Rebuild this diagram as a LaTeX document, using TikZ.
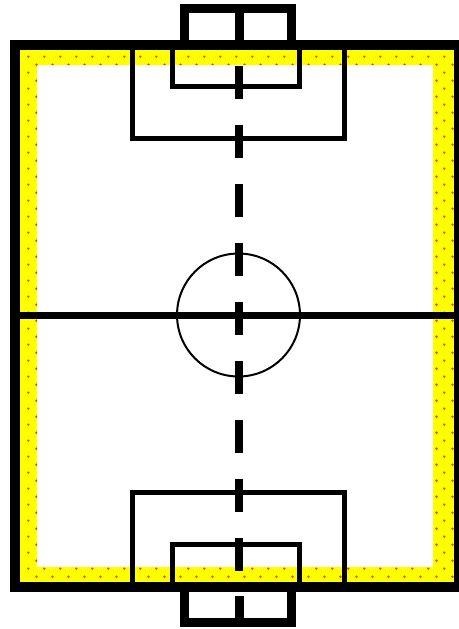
\documentclass[tikz,border=0pt]{standalone}
\usepackage{tikz}
\definecolor{pitchyellow}{RGB}{255, 255, 0}
\definecolor{dotred}{RGB}{255, 60, 0}

\begin{document}
\begin{tikzpicture}[
    x=0.02cm, y=-0.02cm,
    border/.style={line width=0.2cm},
    goalline/.style={line width=0.18cm},
    boxline/.style={line width=0.1cm},
    halfway/.style={line width=0.14cm},
    centreline/.style={line width=0.16cm, dash pattern=on 0.66cm off 0.52cm},
]
  \useasboundingbox (0,0) rectangle (458,629);

  % Yellow band
  \fill[pitchyellow, even odd rule] (20,50) rectangle (454,582) (37,65) rectangle (433,567);
  \begin{scope}[even odd rule]
    \clip (20,50) rectangle (454,582) (37,65) rectangle (433,567);
    \foreach \i in {0,...,27}
      \foreach \j in {-4,...,35} {
        \fill[dotred] (28.3+16*\i, 56.7+16*\j) circle (0.026cm);
        \fill[dotred] (36.5+16*\i, 64.7+16*\j) circle (0.026cm);
      }
  \end{scope}

  % Border
  \draw[border] (15,45) rectangle (459,587);

  % Halfway line and centre circle
  \coordinate (centre) at (238.5,315);
  \draw[halfway] (10,315) -- (458,315);
  \draw[line width=0.04cm] (centre) circle (1.23cm);
  \draw[centreline] (239,66) -- (239,572);

  % Top end
  \draw[boxline] (132.5,45) -- (132.5,138) -- (344.5,138) -- (344.5,45);
  \draw[boxline] (172.5,45) -- (172.5,86) -- (299,86) -- (299,45);
  \draw[goalline] (184,45) -- (184,8.5) -- (291.5,8.5) -- (291.5,45);
  \draw[goalline] (239,4) -- (239,45);

  % Bottom end
  \draw[boxline] (132.5,587) -- (132.5,492.5) -- (344.5,492.5) -- (344.5,587);
  \draw[boxline] (172.5,587) -- (172.5,544.5) -- (299,544.5) -- (299,587);
  \draw[goalline] (184,587) -- (184,622) -- (291.5,622) -- (291.5,587);
  \draw[goalline] (239,596) -- (239,622);
\end{tikzpicture}
\end{document}
